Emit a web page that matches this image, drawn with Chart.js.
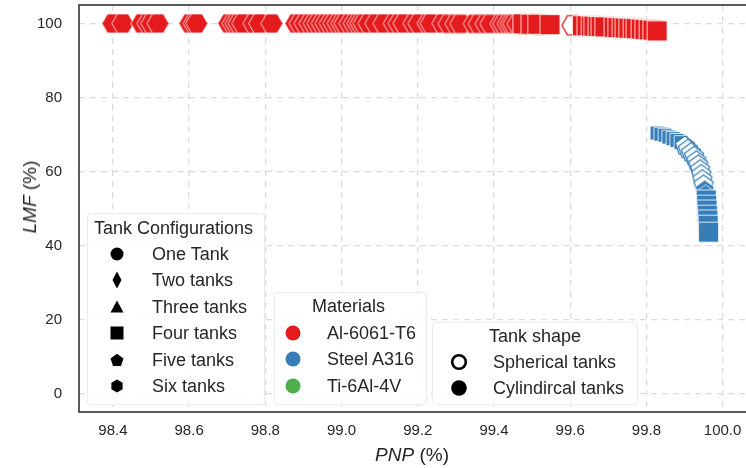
<!DOCTYPE html>
<html>
<head>
<meta charset="utf-8">
<script src="https://cdn.jsdelivr.net/npm/chart.js@4.4.0/dist/chart.umd.min.js"></script>
<style>
body { margin: 0; background: #fff; font-family: "Liberation Sans", Arial, sans-serif; color: #262626; overflow: hidden; }
#wrap { position: relative; width: 746px; height: 468px; overflow: hidden; }
#wrap canvas { position: absolute; left: 0; top: 0; }
.box { position: absolute; background: rgba(255,255,255,0.88); border: 1px solid #ebebeb; border-radius: 4px; }
.t { position: absolute; font-size: 18px; line-height: 20px; white-space: nowrap; }
.m { position: absolute; }
.axt { position: absolute; font-size: 19px; line-height: 22px; white-space: nowrap; color: #262626; }
</style>
</head>
<body>
<div id="wrap">
  <canvas id="chart" width="752" height="468"></canvas>
</div>
<script>
// ---- data ----
const xTicks = [98.4, 98.6, 98.8, 99.0, 99.2, 99.4, 99.6, 99.8, 100.0];
const yTicks = [0, 20, 40, 60, 80, 100];

// Al-6061-T6, six tanks (hexagons)
const alHexX = [98.400, 98.426, 98.476, 98.492, 98.502, 98.518, 98.602, 98.613, 98.620, 98.704, 98.715, 98.723,
  98.731, 98.741, 98.770, 98.785, 98.817, 98.880, 98.891, 98.904, 98.917, 98.928, 98.938, 98.949, 98.959, 98.970,
  98.980, 98.991, 99.001, 99.009, 99.022, 99.033, 99.043, 99.051, 99.059, 99.072, 99.090, 99.111, 99.138, 99.151,
  99.164, 99.190, 99.203, 99.227, 99.235, 99.266, 99.282, 99.300, 99.313, 99.348, 99.361, 99.379, 99.392, 99.418,
  99.426, 99.437, 99.445, 99.452, 99.463];
const alHexY = [100, 100, 100, 100, 100, 100, 100, 100, 100, 100, 100, 100,
  100, 100, 100, 100, 100, 100, 100, 100, 100, 100, 100, 100, 100, 100,
  100, 100, 100, 100, 100, 100, 100, 100, 100, 100, 100, 100, 100, 100,
  100, 100, 100, 100, 100, 100, 99.9, 99.9, 99.9, 99.9, 99.9, 99.9, 99.9, 99.9,
  99.9, 99.9, 99.9, 99.9, 99.9];
// Al-6061-T6, spherical (hollow) hexagons
const alHexOpenX = [99.479, 99.518, 99.607, 99.699];
const alHexOpenY = [99.8, 99.7, 99.5, 99.1];
// Al-6061-T6, four tanks (squares)
const alSqX = [99.476, 99.497, 99.515, 99.547, 99.632, 99.644, 99.655, 99.662, 99.673, 99.681, 99.691, 99.715,
  99.725, 99.736, 99.744, 99.754, 99.765, 99.773, 99.786, 99.796, 99.807, 99.817, 99.828];
const alSqY = [99.9, 99.8, 99.8, 99.7, 99.4, 99.4, 99.3, 99.3, 99.2, 99.2, 99.1, 99.0,
  98.9, 98.9, 98.8, 98.7, 98.7, 98.6, 98.5, 98.4, 98.3, 98.2, 98.0];

// Steel A316
const stSqSmallX = [99.828, 99.838, 99.849, 99.859, 99.870, 99.880, 99.891];
const stSqSmallY = [70.4, 70.1, 69.8, 69.3, 68.9, 68.4, 67.8];
const stPentOpenX = [99.901, 99.909, 99.917, 99.925, 99.931, 99.936, 99.941, 99.944, 99.947, 99.950];
const stPentOpenY = [66.9, 66.0, 65.1, 64.1, 62.9, 61.8, 60.5, 59.2, 57.8, 56.4];
const stPentX = [99.953, 99.955];
const stPentY = [55.0, 53.7];
const stSqX = [99.957, 99.958, 99.959, 99.960, 99.961, 99.962, 99.963];
const stSqY = [52.3, 50.9, 49.6, 48.2, 46.9, 45.5, 43.6];

const tankLabels = ['One Tank', 'Two tanks', 'Three tanks', 'Four tanks', 'Five tanks', 'Six tanks'];
const materialLabels = ['Al-6061-T6', 'Steel A316', 'Ti-6Al-4V'];
const shapeLabels = ['Spherical tanks', 'Cylindircal tanks'];

// ---- look ----
const RED = '#e41a1c', BLUE = '#377eb8', GREEN = '#4daf4a';
const FONT = '"Liberation Sans", Arial, sans-serif';

function marker(shape, r, fill, stroke, lw) {
    const s = Math.ceil(2 * r + lw + 2);
    const c = document.createElement('canvas');
    c.width = s; c.height = s;
    const g = c.getContext('2d');
    g.translate(s / 2, s / 2);
    g.beginPath();
    if (shape === 'square') {
        g.rect(-r, -r, 2 * r, 2 * r);
    } else {
        const n = shape === 'hex' ? 6 : 5;
        const rot = shape === 'hex' ? 0 : -Math.PI / 2;
        for (let i = 0; i < n; i++) {
            const a = rot + i * 2 * Math.PI / n;
            g.lineTo(r * Math.cos(a), r * Math.sin(a));
        }
        g.closePath();
    }
    g.fillStyle = fill; g.fill();
    g.lineWidth = lw; g.strokeStyle = stroke; g.stroke();
    return c;
}

const pts = (xs, ys) => xs.map((x, i) => ({ x: x, y: ys[i] }));

function ds(label, xs, ys, style, order) {
    return { label: label, data: pts(xs, ys), pointStyle: style, order: order, showLine: false };
}

const frame = {
    id: 'frame',
    afterDraw(chart) {
        const a = chart.chartArea, ctx = chart.ctx;
        ctx.save();
        ctx.strokeStyle = '#333'; ctx.lineWidth = 1.6;
        ctx.strokeRect(a.left, a.top, a.right - a.left, a.bottom - a.top);
        ctx.restore();
    }
};

function noPad(s) { s.paddingTop = 0; s.paddingBottom = 0; s.paddingLeft = 0; s.paddingRight = 0; }

new Chart(document.getElementById('chart'), {
    type: 'scatter',
    data: {
        datasets: [
            ds('Al hollow', alHexOpenX, alHexOpenY, marker('hex', 11, '#fff', RED, 1.3), 6),
            ds('Al six tanks', alHexX, alHexY, marker('hex', 11, RED, '#fff', 0.8), 5),
            ds('Al four tanks', alSqX, alSqY, marker('square', 10, RED, '#fff', 0.8), 4),
            ds('Steel small', stSqSmallX, stSqSmallY, marker('square', 7, BLUE, '#fff', 0.8), 3),
            ds('Steel hollow', stPentOpenX, stPentOpenY, marker('pent', 10, '#fff', BLUE, 1.2), 2),
            ds('Steel five tanks', stPentX, stPentY, marker('pent', 10, BLUE, '#fff', 0.8), 1),
            ds('Steel four tanks', stSqX, stSqY, marker('square', 10, BLUE, '#fff', 0.8), 0)
        ]
    },
    options: {
        responsive: false,
        animation: false,
        layout: { padding: { top: 5, right: 1, left: 0, bottom: 0 } },
        plugins: { legend: { display: false }, tooltip: { enabled: false } },
        scales: {
            x: {
                type: 'linear', min: 98.311, max: 100.064,
                afterBuildTicks: s => { s.ticks = xTicks.map(v => ({ value: v })); },
                afterFit: s => { s.height = 56; noPad(s); },
                ticks: { callback: v => v.toFixed(1), color: '#262626', font: { family: FONT, size: 15 }, padding: 10, maxRotation: 0 },
                grid: { color: '#dcdcdc', lineWidth: 1.3, drawTicks: false },
                border: { display: false, dash: [6, 5] }
            },
            y: {
                type: 'linear', min: -5, max: 105,
                afterBuildTicks: s => { s.ticks = yTicks.map(v => ({ value: v })); },
                afterFit: s => { s.width = 79; noPad(s); },
                ticks: { color: '#262626', font: { family: FONT, size: 15 }, padding: 17 },
                grid: { color: '#dcdcdc', lineWidth: 1.3, drawTicks: false },
                border: { display: false, dash: [6, 5] }
            }
        }
    },
    plugins: [frame]
});

// ---- axis titles and legends (html overlays) ----
const wrap = document.getElementById('wrap');
function add(cls, html, css) {
    const d = document.createElement('div');
    d.className = cls;
    d.innerHTML = html;
    Object.assign(d.style, css);
    wrap.appendChild(d);
    return d;
}
add('axt', '<i>PNP</i> (%)', { left: '412px', top: '444px', transform: 'translateX(-50%)' });
add('axt', '<i>LMF</i> (%)', { left: '30px', top: '197px', transform: 'translate(-50%,-50%) rotate(-90deg)' });

function svgIcon(kind, cx, cy, fill) {
    let body = '';
    if (kind === 'circle') body = `<circle cx="10" cy="10" r="6.5" fill="${fill}"/>`;
    if (kind === 'bigdot') body = `<circle cx="10" cy="10" r="7.8" fill="${fill}"/>`;
    if (kind === 'ring') body = `<circle cx="10" cy="10" r="6.8" fill="#fff" stroke="#000" stroke-width="2.6"/>`;
    if (kind === 'dot') body = `<circle cx="10" cy="10" r="7.5" fill="${fill}"/>`;
    if (kind === 'diamond') body = `<polygon points="10,1.5 14.5,10 10,18.5 5.5,10" fill="${fill}"/>`;
    if (kind === 'triangle') body = `<polygon points="10,3.5 16.5,15.5 3.5,15.5" fill="${fill}"/>`;
    if (kind === 'square') body = `<rect x="3.5" y="3.5" width="13" height="13" fill="${fill}"/>`;
    if (kind === 'pent') {
        const p = [0, 1, 2, 3, 4].map(i => { const a = -Math.PI / 2 + i * 2 * Math.PI / 5; return (10 + 6.8 * Math.cos(a)).toFixed(2) + ',' + (10.5 + 6.8 * Math.sin(a)).toFixed(2); });
        body = `<polygon points="${p.join(' ')}" fill="${fill}"/>`;
    }
    if (kind === 'hex') {
        const p = [0, 1, 2, 3, 4, 5].map(i => { const a = -Math.PI / 2 + i * Math.PI / 3; return (10 + 6.5 * Math.cos(a)).toFixed(2) + ',' + (10 + 6.5 * Math.sin(a)).toFixed(2); });
        body = `<polygon points="${p.join(' ')}" fill="${fill}"/>`;
    }
    add('m', `<svg width="20" height="20" viewBox="0 0 20 20">${body}</svg>`, { left: (cx - 10) + 'px', top: (cy - 10) + 'px', width: '20px', height: '20px' });
}
function text(str, x, cy) { add('t', str, { left: x + 'px', top: (cy - 10) + 'px' }); }

// Tank Configurations
add('box', '', { left: '87px', top: '213px', width: '176px', height: '190px' });
text('Tank Configurations', 94, 228);
const tankIcons = ['circle', 'diamond', 'triangle', 'square', 'pent', 'hex'];
tankLabels.forEach((l, i) => {
    const cy = 254 + i * 26.4;
    svgIcon(tankIcons[i], 117, cy, '#000');
    text(l, 152, cy);
});

// Materials
add('box', '', { left: '274px', top: '292px', width: '151px', height: '111px' });
text('Materials', 312, 306);
[RED, BLUE, GREEN].forEach((c, i) => {
    const cy = 333 + i * 26.4;
    svgIcon('dot', 293, cy, c);
    text(materialLabels[i], 327, cy);
});

// Tank shape
add('box', '', { left: '432px', top: '322px', width: '204px', height: '81px' });
text('Tank shape', 489, 336);
shapeLabels.forEach((l, i) => {
    const cy = 362 + i * 26.4;
    svgIcon(i === 0 ? 'ring' : 'bigdot', 459, cy, '#000');
    text(l, 493, cy);
});
</script>
</body>
</html>
